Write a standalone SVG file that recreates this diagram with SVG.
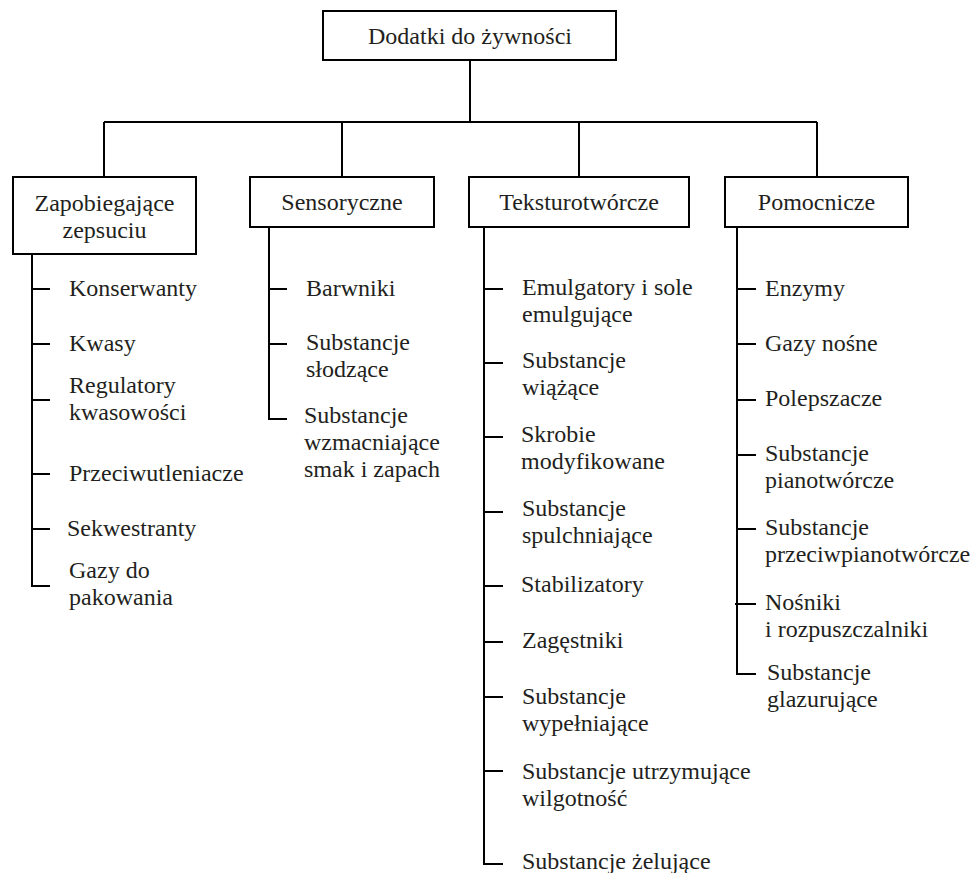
<svg xmlns="http://www.w3.org/2000/svg" width="971" height="873" viewBox="0 0 971 873">
<style>
.box{fill:#fff;stroke:#000;stroke-width:2}
.ln{fill:none;stroke:#000;stroke-width:2}
.t{font-family:'Liberation Serif','DejaVu Serif',serif;font-size:24px;fill:#231f20}
.c{text-anchor:middle}
</style>
<rect width="971" height="873" fill="#fff"/>
<g id="connectors" class="ln">
<path d="M470 60V122M104 122H817M104 122V177M342 122V177M579 122V177M817 122V177"/>
<path d="M32 254V586H50M32 289H50M32 344H50M32 400H50M32 474H50M32 529H50"/>
<path d="M269 227V419H287M269 289H287M269 344H287"/>
<path d="M484 227V864H503M484 289H503M484 363H503M484 437H503M484 512H503M484 586H503M484 642H503M484 697H503M484 771H503"/>
<path d="M737 227V674H756M737 289H756M737 344H756M737 400H756M737 455H756M737 529H756M735 604H756"/>
</g>
<g class="t" font-family="Liberation Serif, serif">
<g id="root"><rect class="box" x="323" y="11" width="293" height="49"/><text class="c" x="470" y="44">Dodatki do żywności</text></g>
<g id="zapobiegajace"><rect class="box" x="13" y="177" width="183" height="77"/><text class="c" x="104.5" y="211">Zapobiegające</text><text class="c" x="104.5" y="238">zepsuciu</text></g>
<g id="sensoryczne"><rect class="box" x="250" y="177" width="184" height="50"/><text class="c" x="342" y="210">Sensoryczne</text></g>
<g id="teksturotworcze"><rect class="box" x="469" y="177" width="220" height="50"/><text class="c" x="579" y="210">Teksturotwórcze</text></g>
<g id="pomocnicze"><rect class="box" x="725" y="177" width="183" height="50"/><text class="c" x="816.5" y="210">Pomocnicze</text></g>

<g id="konserwanty"><text x="69" y="296">Konserwanty</text></g>
<g id="kwasy"><text x="69" y="351">Kwasy</text></g>
<g id="regulatory"><text x="69" y="393">Regulatory</text><text x="69" y="420">kwasowości</text></g>
<g id="przeciwutleniacze"><text x="69" y="481">Przeciwutleniacze</text></g>
<g id="sekwestranty"><text x="67" y="536">Sekwestranty</text></g>
<g id="gazy-pakowanie"><text x="69" y="578">Gazy do</text><text x="69" y="605">pakowania</text></g>

<g id="barwniki"><text x="306" y="296">Barwniki</text></g>
<g id="slodzace"><text x="306" y="350">Substancje</text><text x="306" y="377">słodzące</text></g>
<g id="wzmacniajace"><text x="304" y="423">Substancje</text><text x="304" y="450">wzmacniające</text><text x="304" y="477">smak i zapach</text></g>

<g id="emulgatory"><text x="522" y="295">Emulgatory i sole</text><text x="522" y="322">emulgujące</text></g>
<g id="wiazace"><text x="522" y="368">Substancje</text><text x="522" y="395">wiążące</text></g>
<g id="skrobie"><text x="521" y="442">Skrobie</text><text x="521" y="469">modyfikowane</text></g>
<g id="spulchniajace"><text x="522" y="516">Substancje</text><text x="522" y="543">spulchniające</text></g>
<g id="stabilizatory"><text x="521" y="592">Stabilizatory</text></g>
<g id="zagestniki"><text x="522" y="648">Zagęstniki</text></g>
<g id="wypelniajace"><text x="522" y="704">Substancje</text><text x="522" y="731">wypełniające</text></g>
<g id="utrzymujace"><text x="522" y="779">Substancje utrzymujące</text><text x="522" y="806">wilgotność</text></g>
<g id="zelujace"><text x="522" y="869">Substancje żelujące</text></g>

<g id="enzymy"><text x="765" y="296">Enzymy</text></g>
<g id="gazy-nosne"><text x="765" y="351">Gazy nośne</text></g>
<g id="polepszacze"><text x="765" y="406">Polepszacze</text></g>
<g id="pianotworcze"><text x="765" y="461">Substancje</text><text x="765" y="488">pianotwórcze</text></g>
<g id="przeciwpianotworcze"><text x="765" y="535">Substancje</text><text x="765" y="562">przeciwpianotwórcze</text></g>
<g id="nosniki"><text x="765" y="610">Nośniki</text><text x="765" y="637">i rozpuszczalniki</text></g>
<g id="glazurujace"><text x="767" y="680">Substancje</text><text x="767" y="707">glazurujące</text></g>
</g>
</svg>
